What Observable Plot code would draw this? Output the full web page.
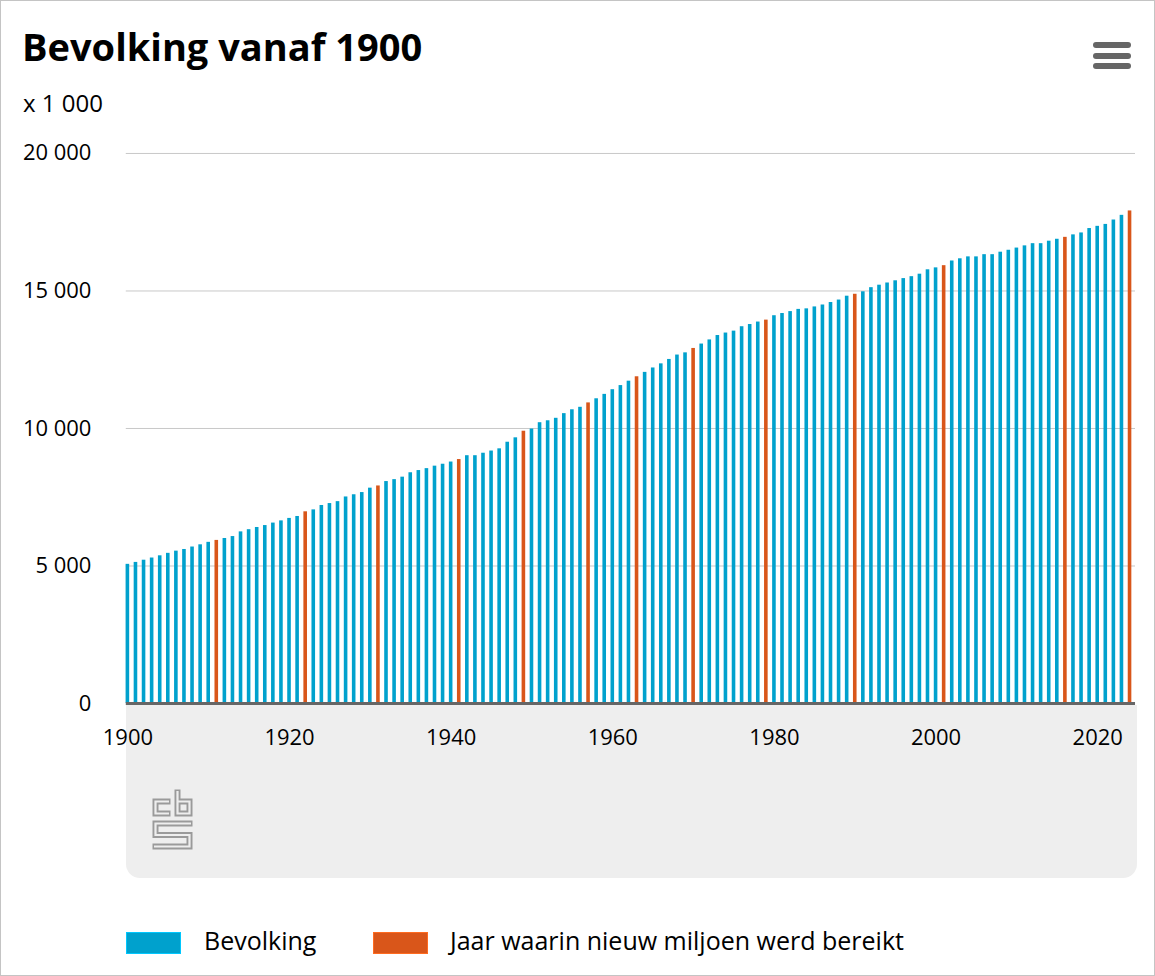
<!DOCTYPE html>
<html>
<head>
<meta charset="utf-8">
<script src="https://cdn.jsdelivr.net/npm/d3@7"></script>
<script src="https://cdn.jsdelivr.net/npm/@observablehq/plot@0.6"></script>
<style>
  html, body { margin: 0; padding: 0; background: #fff; }
  #page { position: relative; width: 1155px; height: 976px; box-sizing: border-box; border: 1px solid #c4c4c4; overflow: hidden; font-family: 'Open Sans', sans-serif; color: #000; }
  #title { position: absolute; left: 21px; top: 26px; font-size: 38px; line-height: 38px; font-weight: 700; white-space: nowrap; }
  #unit { position: absolute; left: 22px; top: 90px; font-size: 24px; line-height: 24px; white-space: nowrap; }
  #menu { position: absolute; left: 1092px; top: 41px; width: 38px; }
  #menu div { height: 6px; border-radius: 3px; background: #666; margin-bottom: 4.5px; }
  #panel { position: absolute; left: 125px; top: 704px; width: 1011px; height: 173px; background: #eeeeee; border-radius: 0 0 14px 14px; }
  #logo { position: absolute; left: 151px; top: 788px; }
  #chart { position: absolute; left: 0; top: 130px; }
  #legend { position: absolute; left: 0; top: 927px; width: 1155px; height: 30px; }
  .sw { position: absolute; top: 4px; width: 55px; height: 22px; box-sizing: border-box; }
  .lt { position: absolute; top: 0; font-size: 25px; line-height: 25px; white-space: nowrap; }
</style>
</head>
<body>
<div id="page">
  <div id="title"></div>
  <div id="unit"></div>
  <div id="menu"><div></div><div></div><div></div></div>
  <div id="panel"></div>
  <svg id="logo" width="41" height="61" viewBox="-0.5 -0.5 41 61">
    <g fill="none" stroke="#9a9a9a" stroke-width="6" stroke-linejoin="miter" stroke-linecap="square">
      <path d="M15,12 H3 V24 H15"/>
      <path d="M25,3 V24 H37 V12 H25"/>
      <path d="M37,34 H3 V45.5 H37 V57 H3"/>
    </g>
    <g fill="none" stroke="#eeeeee" stroke-width="2.2" stroke-linejoin="miter" stroke-linecap="butt">
      <path d="M16.5,12 H3 V24 H16.5"/>
      <path d="M25,1.5 V24 H37 V12 H25"/>
      <path d="M38.5,34 H3 V45.5 H37 V57 H1.5"/>
    </g>
  </svg>
  <div id="chart"></div>
  <div id="legend"></div>
</div>
<script>
// ---- data (x 1 000 inwoners, 1 januari) ----
const titleText = "Bevolking vanaf 1900";
const unitText = "x 1 000";
const firstYear = 1900;
const population = [
  5060, 5130, 5210, 5290, 5370, 5460, 5540, 5600, 5690, 5770,   // 1900-1909
  5860, 5930, 6000, 6070, 6240, 6320, 6400, 6470, 6560, 6640,   // 1910-1919
  6730, 6800, 6970, 7040, 7200, 7270, 7340, 7510, 7590, 7670,   // 1920-1929
  7830, 7910, 8070, 8140, 8230, 8390, 8470, 8540, 8630, 8700,   // 1930-1939
  8780, 8870, 9010, 9010, 9100, 9180, 9260, 9500, 9660, 9900,   // 1940-1949
  9980, 10210, 10280, 10370, 10540, 10680, 10770, 10930, 11080, 11240, // 1950-1959
  11410, 11560, 11720, 11880, 12040, 12200, 12350, 12510, 12670, 12750, // 1960-1969
  12910, 13070, 13220, 13380, 13470, 13540, 13700, 13780, 13870, 13940, // 1970-1979
  14100, 14180, 14250, 14330, 14350, 14420, 14490, 14580, 14670, 14810, // 1980-1989
  14880, 14970, 15120, 15210, 15290, 15370, 15450, 15520, 15610, 15770, // 1990-1999
  15840, 15920, 16090, 16170, 16240, 16240, 16320, 16320, 16410, 16480, // 2000-2009
  16560, 16640, 16720, 16720, 16810, 16880, 16950, 17040, 17110, 17270, // 2010-2019
  17350, 17420, 17580, 17750, 17910                                       // 2020-2024
];
const millionYears = [1911, 1922, 1931, 1941, 1949, 1957, 1963, 1970, 1979, 1990, 2001, 2016, 2024];
const seriesNames = ["Bevolking", "Jaar waarin nieuw miljoen werd bereikt"];
const seriesColors = ["#00a1cd", "#d9561a"];
const xTicks = [1900, 1920, 1940, 1960, 1980, 2000, 2020];
const yTicks = [0, 5000, 10000, 15000, 20000];

const years = population.map((_, i) => firstYear + i);
const data = years.map((year, i) => ({
  year,
  value: population[i],
  series: millionYears.includes(year) ? seriesNames[1] : seriesNames[0]
}));

document.getElementById("title").textContent = titleText;
document.getElementById("unit").textContent = unitText;

const fmt = d => d3.format(",")(d).replace(/,/g, " ");

const chart = Plot.plot({
  width: 1155,
  height: 650,
  marginLeft: 125,
  marginRight: 19,
  marginTop: 22,
  marginBottom: 77,
  style: { fontFamily: "'Open Sans', sans-serif", fontSize: "22px", color: "#000", background: "transparent", overflow: "visible" },
  x: { type: "band", domain: years, range: [120.3, 1136.8], padding: 0.555, round: false, axis: null, label: null },
  y: { domain: [0, 20000], axis: null, label: null },
  color: { domain: seriesNames, range: seriesColors },
  marks: [
    Plot.gridY(yTicks.slice(1), { stroke: "#c8c8c8", strokeOpacity: 1, strokeWidth: 1 }),
    Plot.barY(data, { x: "year", y: "value", fill: "series", inset: 0 }),
    Plot.ruleY([0], { stroke: "#666666", strokeWidth: 3 }),
    Plot.axisY(yTicks, { tickSize: 0, tickPadding: 35, tickFormat: fmt, fontSize: 22, label: null }),
    Plot.axisX(xTicks, { tickSize: 0, tickPadding: 26, tickFormat: d => String(d), fontSize: 22, label: null })
  ]
});
document.getElementById("chart").appendChild(chart);

// legend
const legend = d3.select("#legend");
const swX = [125, 372];
const txX = [203, 449];
seriesNames.forEach((name, i) => {
  legend.append("div").attr("class", "sw")
    .style("left", swX[i] + "px")
    .style("background", seriesColors[i])
    .style("border", "1px solid " + d3.color(seriesColors[i]).brighter(0.6));
  legend.append("div").attr("class", "lt")
    .style("left", txX[i] + "px")
    .text(name);
});
</script>
</body>
</html>
